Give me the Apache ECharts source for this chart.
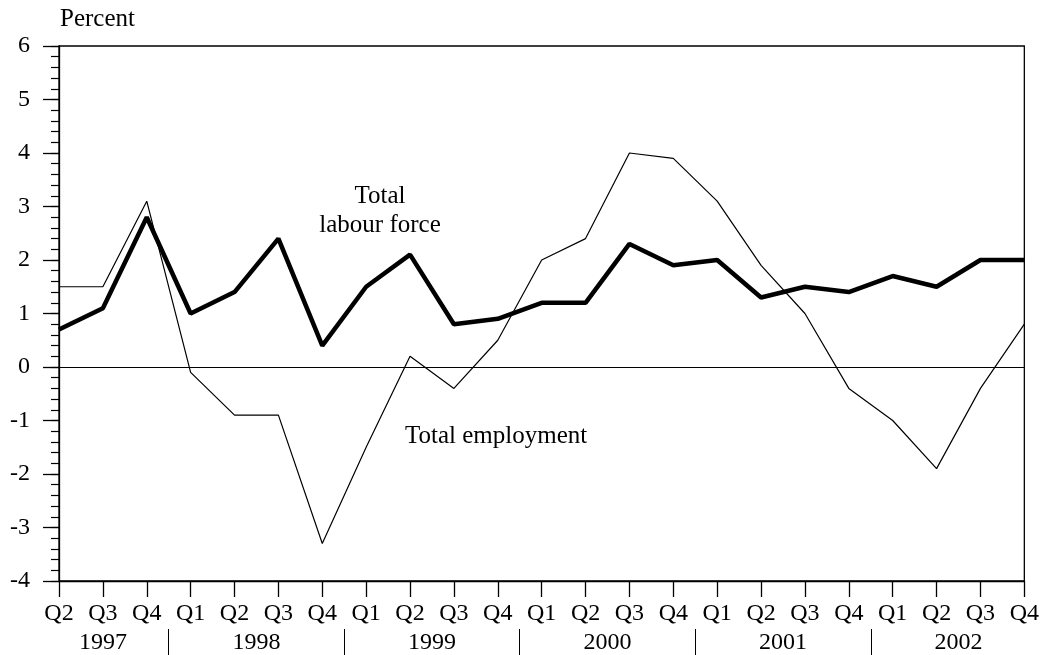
<!DOCTYPE html>
<html>
<head>
<meta charset="utf-8">
<script src="https://cdn.jsdelivr.net/npm/echarts@6/dist/echarts.min.js"></script>
<style>
  html, body { margin: 0; padding: 0; background: #fff; }
  #chart { width: 1042px; height: 655px; }
</style>
</head>
<body>
<div id="chart"></div>
<script>
// quarters on the x axis, with the year each belongs to
const quarters = ['Q2', 'Q3', 'Q4',
  'Q1', 'Q2', 'Q3', 'Q4',
  'Q1', 'Q2', 'Q3', 'Q4',
  'Q1', 'Q2', 'Q3', 'Q4',
  'Q1', 'Q2', 'Q3', 'Q4',
  'Q1', 'Q2', 'Q3', 'Q4'];
const quarterYears = [1997, 1997, 1997,
  1998, 1998, 1998, 1998,
  1999, 1999, 1999, 1999,
  2000, 2000, 2000, 2000,
  2001, 2001, 2001, 2001,
  2002, 2002, 2002, 2002];

// percent change
const labourForce = [0.7, 1.1, 2.8, 1.0, 1.4, 2.4, 0.4, 1.5, 2.1, 0.8, 0.9,
  1.2, 1.2, 2.3, 1.9, 2.0, 1.3, 1.5, 1.4, 1.7, 1.5, 2.0, 2.0];
const employment = [1.5, 1.5, 3.1, -0.1, -0.9, -0.9, -3.3, -1.5, 0.2, -0.4, 0.5,
  2.0, 2.4, 4.0, 3.9, 3.1, 1.9, 1.0, -0.4, -1.0, -1.9, -0.4, 0.8];

const yMin = -4;
const yMax = 6;

// second x axis runs in half-quarter steps so year names sit centred
// and separators fall between Q4 and Q1
const halfSteps = [];
for (let k = 0; k <= (quarters.length - 1) * 2; k++) halfSteps.push(String(k));
const yearCentre = {};
const separators = {};
const years = [...new Set(quarterYears)];
years.forEach(y => {
  const idx = quarterYears.map((v, i) => (v === y ? i : -1)).filter(i => i >= 0);
  const mean = idx.reduce((a, b) => a + b, 0) / idx.length;
  yearCentre[Math.round(mean * 2)] = String(y);
});
for (let i = 0; i < quarterYears.length - 1; i++) {
  if (quarterYears[i] !== quarterYears[i + 1]) separators[2 * i + 1] = true;
}

const font = 'Liberation Serif, Times New Roman, serif';
const chart = echarts.init(document.getElementById('chart'));

chart.setOption({
  animation: false,
  backgroundColor: '#fff',
  textStyle: { fontFamily: font, color: '#000' },
  grid: {
    left: 59, right: 16, top: 46, bottom: 73,
    show: true, borderColor: '#000', borderWidth: 1.3
  },
  xAxis: [
    {
      type: 'category',
      data: quarters,
      boundaryGap: false,
      position: 'bottom',
      axisLine: { onZero: false, lineStyle: { color: '#000', width: 1.3 } },
      axisTick: { inside: false, length: 16, lineStyle: { color: '#000', width: 1.3 } },
      axisLabel: {
        interval: 0, margin: 21, color: '#000',
        fontFamily: font, fontSize: 24
      },
      splitLine: { show: false }
    },
    {
      type: 'category',
      data: halfSteps,
      boundaryGap: false,
      position: 'bottom',
      offset: 48,
      axisLine: { show: false, onZero: false },
      axisTick: {
        interval: (i) => !!separators[i],
        length: 26,
        lineStyle: { color: '#000', width: 1 }
      },
      axisLabel: {
        interval: (i) => yearCentre[i] !== undefined,
        formatter: (v, i) => yearCentre[i] || '',
        margin: 2, color: '#000', fontFamily: font, fontSize: 24,
        hideOverlap: false
      },
      splitLine: { show: false }
    }
  ],
  yAxis: [
    {
      type: 'value',
      position: 'left',
      min: yMin, max: yMax, interval: 1,
      axisLine: { show: true, onZero: false, lineStyle: { color: '#000', width: 1.3 } },
      axisTick: { show: true, length: 16, lineStyle: { color: '#000', width: 1.3 } },
      axisLabel: { margin: 29, color: '#000', fontFamily: font, fontSize: 24 },
      splitLine: { show: false }
    },
    {
      type: 'value',
      position: 'left',
      offset: 0,
      min: yMin, max: yMax, interval: 0.2,
      axisLine: { show: false, onZero: false },
      axisTick: { show: true, length: 8, lineStyle: { color: '#000', width: 1.2 } },
      axisLabel: { show: false },
      splitLine: { show: false }
    }
  ],
  series: [
    {
      name: 'Total employment',
      type: 'line',
      data: employment,
      symbol: 'none',
      lineStyle: { color: '#000', width: 1.2 },
      markLine: {
        silent: true,
        symbol: 'none',
        label: { show: false },
        lineStyle: { color: '#000', width: 1.2, type: 'solid' },
        data: [{ yAxis: 0 }]
      }
    },
    {
      name: 'Total labour force',
      type: 'line',
      data: labourForce,
      symbol: 'none',
      lineStyle: { color: '#000', width: 4.5 }
    }
  ],
  graphic: [
    {
      type: 'text', left: 60, top: 7,
      style: { text: 'Percent', font: '25px ' + font, fill: '#000' }
    },
    {
      type: 'text', x: 380, y: 182,
      style: {
        text: 'Total\nlabour force', font: '25px ' + font, fill: '#000',
        align: 'center', lineHeight: 29
      }
    },
    {
      type: 'text', left: 405, top: 424,
      style: { text: 'Total employment', font: '25px ' + font, fill: '#000' }
    }
  ]
});
</script>
</body>
</html>
